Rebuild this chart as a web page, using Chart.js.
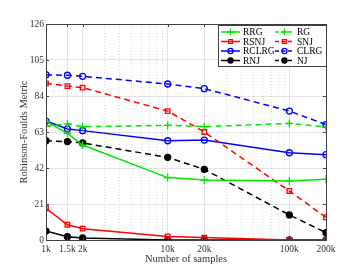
<!DOCTYPE html>
<html>
<head>
<meta charset="utf-8">
<script src="https://cdn.jsdelivr.net/npm/chart.js@4/dist/chart.umd.min.js"></script>
<style>
  body { margin: 0; background: #fff; }
  #wrap { width: 360px; height: 270px; }
</style>
</head>
<body>
<div id="wrap"><canvas id="chart"></canvas></div>
<script>
// sample sizes and tick labels
const samples = [1000, 1500, 2000, 10000, 20000, 100000, 200000];
const yTicks = [0, 21, 42, 63, 84, 105, 126];
const minorX = [3000, 4000, 5000, 6000, 7000, 8000, 9000, 30000, 40000, 50000, 60000, 70000, 80000, 90000];

// Robinson-Foulds values
const rrg   = [69.4, 62.2, 55.4, 36.4, 35.0, 34.4, 35.4];
const rg    = [66.5, 67.7, 66.1, 66.9, 66.1, 68.0, 65.9];
const rsnj  = [18.5, 8.9, 6.6, 2.1, 1.4, 0, 0];
const snj   = [91.4, 89.8, 88.9, 75.2, 63.0, 28.6, 13.2];
const rclrg = [69.4, 64.8, 63.8, 57.9, 58.3, 50.9, 49.8];
const clrg  = [96.4, 96.1, 95.5, 91.0, 88.3, 75.2, 67.3];
const rnj   = [5.2, 1.9, 1.2, 0, 0, 0, 0];
const nj    = [57.9, 57.4, 56.6, 48.2, 41.2, 14.6, 4.3];

const GREEN = '#00e600', RED = '#ff0000', BLUE = '#0000ff', BLACK = '#000000';
const DASH = [6, 4];
const FONT = '"Liberation Serif", serif';

function series(label, data, color, dashed, style, filled) {
    return {
        label: label,
        data: data.map((v, i) => ({ x: samples[i], y: v })),
        borderColor: color,
        backgroundColor: filled ? color : '#ffffff',
        borderWidth: 1.5,
        borderDash: dashed ? DASH : [],
        pointStyle: style,
        pointRadius: style === 'cross' ? 4 : (style === 'rect' ? 3.2 : 3),
        pointBorderColor: color,
        pointBackgroundColor: filled ? color : 'rgba(0,0,0,0)',
        pointBorderWidth: 1.3,
        tension: 0
    };
}

const datasets = [
    series('RRG', rrg, GREEN, false, 'cross', false),
    series('RG', rg, GREEN, true, 'cross', false),
    series('RSNJ', rsnj, RED, false, 'rect', false),
    series('SNJ', snj, RED, true, 'rect', false),
    series('RCLRG', rclrg, BLUE, false, 'circle', false),
    series('CLRG', clrg, BLUE, true, 'circle', false),
    series('RNJ', rnj, BLACK, false, 'circle', true),
    series('NJ', nj, BLACK, true, 'circle', true)
];

// minor grid, box, inward ticks, legend
const frame = {
    id: 'frame',
    beforeDatasetsDraw(chart) {
        const { ctx, chartArea: a, scales: { x } } = chart;
        ctx.save();
        ctx.strokeStyle = '#c8c8c8';
        ctx.lineWidth = 0.7;
        ctx.setLineDash([1, 2]);
        minorX.forEach(v => {
            const px = Math.round(x.getPixelForValue(v)) + 0.5;
            ctx.beginPath();
            ctx.moveTo(px, a.top);
            ctx.lineTo(px, a.bottom);
            ctx.stroke();
        });
        ctx.restore();
    },
    afterDraw(chart) {
        const { ctx, chartArea: a, scales: { x, y } } = chart;
        ctx.save();
        ctx.strokeStyle = '#404040';
        ctx.lineWidth = 1;
        ctx.strokeRect(a.left + 0.5, a.top + 0.5, a.right - a.left, a.bottom - a.top);
        ctx.beginPath();
        samples.forEach(v => {
            const px = Math.round(x.getPixelForValue(v)) + 0.5;
            ctx.moveTo(px, a.bottom); ctx.lineTo(px, a.bottom - 3);
            ctx.moveTo(px, a.top); ctx.lineTo(px, a.top + 3);
        });
        yTicks.forEach(v => {
            const py = Math.round(y.getPixelForValue(v)) + 0.5;
            ctx.moveTo(a.left, py); ctx.lineTo(a.left + 3, py);
            ctx.moveTo(a.right, py); ctx.lineTo(a.right - 3, py);
        });
        ctx.stroke();

        // legend box
        const bx = 218, by = 25, bw = 108, bh = 41;
        ctx.fillStyle = '#ffffff';
        ctx.fillRect(bx, by, bw, bh);
        ctx.strokeStyle = '#404040';
        ctx.strokeRect(bx + 0.5, by + 0.5, bw, bh);
        ctx.font = '9.5px ' + FONT;
        ctx.textBaseline = 'middle';
        chart.data.datasets.forEach((d, i) => {
            const col = i % 2, row = Math.floor(i / 2);
            const lx = col === 0 ? 221 : 275;
            const ly = 32 + row * 9.5;
            ctx.save();
            ctx.strokeStyle = d.borderColor;
            ctx.lineWidth = 1.5;
            ctx.setLineDash(d.borderDash.length ? [4, 2.5] : []);
            ctx.beginPath();
            ctx.moveTo(lx, ly); ctx.lineTo(lx + 19, ly);
            ctx.stroke();
            ctx.restore();
            ctx.save();
            ctx.strokeStyle = d.pointBorderColor;
            ctx.fillStyle = d.pointBackgroundColor;
            ctx.lineWidth = d.pointBorderWidth;
            Chart.helpers.drawPoint(ctx, { pointStyle: d.pointStyle, radius: d.pointRadius * 0.85, borderWidth: d.pointBorderWidth, rotation: 0 }, lx + 9.5, ly);
            ctx.restore();
            ctx.fillStyle = '#000';
            ctx.fillText(d.label, lx + 22, ly + 0.5);
        });
        ctx.restore();
    }
};

new Chart(document.getElementById('chart'), {
    type: 'line',
    data: { datasets: datasets },
    plugins: [frame],
    options: {
        responsive: true,
        maintainAspectRatio: false,
        animation: false,
        layout: { padding: { left: 0, right: 34, top: 24, bottom: 0 } },
        plugins: { legend: { display: false }, tooltip: { enabled: false } },
        scales: {
            x: {
                type: 'logarithmic',
                min: 1000,
                max: 200000,
                afterBuildTicks: s => { s.ticks = samples.map(v => ({ value: v })); },
                afterFit: s => { s.height = 30; },
                ticks: {
                    autoSkip: false,
                    maxRotation: 0,
                    padding: 4,
                    color: '#333',
                    font: { family: FONT, size: 9.5 },
                    callback: v => (v / 1000) + 'k'
                },
                grid: { color: '#e4e4e4', lineWidth: 1, drawTicks: false },
                border: { display: false },
                title: {
                    display: true,
                    text: 'Number of samples',
                    color: '#333',
                    font: { family: FONT, size: 10.5 },
                    padding: { top: 0, bottom: 4 }
                }
            },
            y: {
                min: 0,
                max: 126,
                afterBuildTicks: s => { s.ticks = yTicks.map(v => ({ value: v })); },
                afterFit: s => { s.width = 46; },
                ticks: {
                    padding: 2,
                    color: '#333',
                    font: { family: FONT, size: 9.5 }
                },
                grid: { color: '#e4e4e4', lineWidth: 1, drawTicks: false },
                border: { display: false },
                title: {
                    display: true,
                    text: 'Robinson-Foulds Metric',
                    color: '#333',
                    font: { family: FONT, size: 10.5 },
                    padding: { top: 18, bottom: 0 }
                }
            }
        }
    }
});
</script>
</body>
</html>
